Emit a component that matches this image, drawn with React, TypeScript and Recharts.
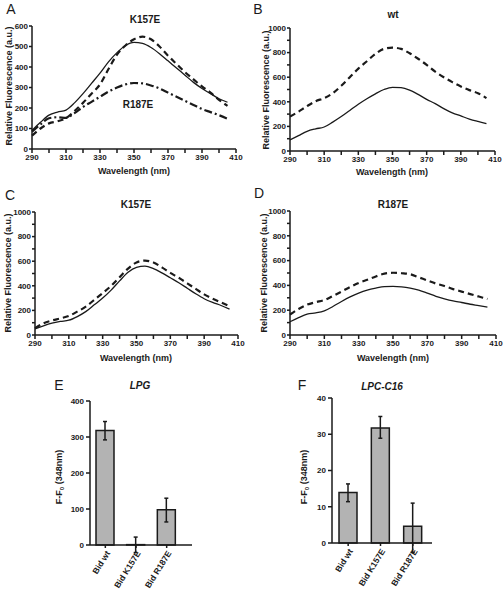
import React from 'react';
import { LineChart, Line, XAxis, YAxis, BarChart, Bar, ErrorBar } from 'recharts';

// emission spectra, 290-405 nm
const wavelengths = [290, 295, 300, 305, 310, 315, 320, 325, 330, 335, 340, 345, 350, 355, 360, 365, 370, 375, 380, 385, 390, 395, 400, 405];

const aSolid = [90, 130, 165, 180, 190, 225, 270, 320, 370, 425, 470, 505, 520, 515, 495, 465, 430, 395, 360, 325, 295, 270, 245, 228];
const aDashed = [65, 100, 125, 135, 150, 185, 225, 270, 315, 390, 460, 505, 535, 548, 535, 500, 455, 415, 375, 340, 305, 275, 240, 210];
const aDashDot = [85, 120, 150, 155, 152, 175, 205, 230, 255, 280, 300, 315, 322, 320, 310, 295, 275, 255, 235, 215, 195, 180, 165, 148];

const bSolid = [90, 125, 160, 180, 195, 235, 280, 330, 380, 425, 465, 500, 518, 515, 495, 460, 420, 385, 345, 310, 285, 260, 240, 222];
const bDashed = [280, 320, 365, 405, 430, 470, 530, 600, 670, 730, 790, 830, 840, 830, 795, 750, 700, 645, 600, 560, 525, 495, 470, 430];

const cSolid = [50, 75, 96, 110, 120, 150, 190, 245, 300, 365, 440, 510, 550, 560, 540, 505, 465, 425, 380, 335, 295, 265, 240, 210];
const cDashed = [55, 95, 118, 135, 155, 190, 230, 285, 340, 400, 470, 540, 590, 605, 590, 550, 505, 465, 420, 375, 330, 295, 265, 235];

const dSolid = [107, 140, 168, 178, 195, 230, 270, 307, 338, 362, 378, 390, 392, 388, 378, 362, 338, 312, 292, 275, 262, 248, 237, 225];
const dDashed = [165, 210, 245, 265, 282, 315, 350, 387, 420, 445, 472, 495, 502, 498, 490, 465, 440, 415, 395, 370, 350, 330, 310, 290];

const xTicks = [290, 300, 310, 320, 330, 340, 350, 360, 370, 380, 390, 400, 410];
const yTicksA = [0, 100, 200, 300, 400, 500, 600];
const yTicks1000 = [0, 100, 200, 300, 400, 500, 600, 700, 800, 900, 1000];

// bar panels
const variants = ['Bid wt', 'Bid K157E', 'Bid R187E'];
const lpgValues = [318, 1, 98];
const lpgErrors = [[26, 25], [22, 21], [34, 32]];
const lpcValues = [13.9, 31.7, 4.6];
const lpcErrors = [[2.5, 2.4], [2.8, 3.2], [7.2, 6.4]];
const lpgTicks = [0, 100, 200, 300, 400];
const lpcTicks = [0, 10, 20, 30, 40];

const FONT = '"Liberation Sans", Arial, Helvetica, sans-serif';
const INK = '#1a1a1a';

const tickStyle = { fontSize: 8, fontWeight: 700, fill: INK, fontFamily: FONT };

const STYLES: Record<string, { dash?: string; width: number }> = {
  solid: { width: 1.3 },
  dashed: { dash: '6 4', width: 2.2 },
  dashdot: { dash: '8 3 2 3', width: 2.2 },
};

type Box = { left: number; top: number; width: number; height: number };
type Plot = { x0: number; x1: number; y0: number; y1: number };

function Text({ x, y, size, children, bold = true, italic = false, rotate = false }: any) {
  return (
    <div
      style={{
        position: 'absolute',
        left: x,
        top: y,
        transform: `translate(-50%, -50%)${rotate ? ' rotate(-90deg)' : ''}`,
        whiteSpace: 'nowrap',
        fontSize: size,
        fontWeight: bold ? 700 : 400,
        fontStyle: italic ? 'italic' : 'normal',
        color: INK,
        fontFamily: FONT,
        lineHeight: 1,
      }}
    >
      {children}
    </div>
  );
}

function SpectrumPanel({ box, plot, series, yTicks, yMax, labelStep }: {
  box: Box; plot: Plot; series: { values: number[]; style: string }[]; yTicks: number[]; yMax: number; labelStep: number;
}) {
  const data = wavelengths.map((w, i) => {
    const row: any = { w };
    series.forEach((s, j) => (row['s' + j] = s.values[i]));
    return row;
  });
  return (
    <div style={{ position: 'absolute', left: box.left, top: box.top }}>
      <LineChart
        width={box.width}
        height={box.height}
        data={data}
        margin={{ top: plot.y0 - box.top, right: box.left + box.width - plot.x1, left: 0, bottom: 0 }}
      >
        <XAxis
          dataKey="w"
          type="number"
          domain={[290, 410]}
          ticks={xTicks}
          interval={0}
          tickFormatter={(v: number) => ((v - 290) % 20 === 0 ? String(v) : '')}
          height={box.top + box.height - plot.y1}
          tick={tickStyle}
          tickSize={4}
          tickMargin={1}
          stroke={INK}
          strokeWidth={1.5}
        />
        <YAxis
          type="number"
          domain={[0, yMax]}
          ticks={yTicks}
          interval={0}
          tickFormatter={(v: number) => (v % labelStep === 0 ? String(v) : '')}
          width={plot.x0 - box.left}
          tick={tickStyle}
          tickSize={3}
          tickMargin={1}
          stroke={INK}
          strokeWidth={1.5}
        />
        {series.map((s, j) => (
          <Line
            key={j}
            dataKey={'s' + j}
            type="monotone"
            stroke={INK}
            strokeWidth={STYLES[s.style].width}
            strokeDasharray={STYLES[s.style].dash}
            dot={false}
            isAnimationActive={false}
          />
        ))}
      </LineChart>
    </div>
  );
}

function BarPanel({ box, plot, values, errors, ticks, yMax, padRight }: {
  box: Box; plot: Plot; values: number[]; errors: number[][]; ticks: number[]; yMax: number; padRight: number;
}) {
  const data = variants.map((name, i) => ({ name, value: values[i], err: errors[i] }));
  return (
    <div style={{ position: 'absolute', left: box.left, top: box.top }}>
      <BarChart
        width={box.width}
        height={box.height}
        data={data}
        margin={{ top: plot.y0 - box.top, right: box.left + box.width - plot.x1, left: 0, bottom: 0 }}
      >
        <XAxis
          dataKey="name"
          interval={0}
          padding={{ left: 0, right: padRight }}
          height={box.top + box.height - plot.y1}
          tick={{ ...tickStyle, fontSize: 8.5 }}
          angle={-58}
          textAnchor="end"
          tickSize={3}
          tickMargin={2}
          stroke={INK}
          strokeWidth={1.5}
        />
        <YAxis
          type="number"
          domain={[0, yMax]}
          allowDataOverflow
          ticks={ticks}
          interval={0}
          width={plot.x0 - box.left}
          tick={tickStyle}
          tickSize={4}
          tickMargin={2}
          stroke={INK}
          strokeWidth={1.5}
        />
        <Bar dataKey="value" barSize={18} fill="#b3b3b3" stroke={INK} strokeWidth={1.5} minPointSize={0} isAnimationActive={false}>
          <ErrorBar dataKey="err" width={2} stroke={INK} strokeWidth={1.5} direction="y" />
        </Bar>
      </BarChart>
    </div>
  );
}

const yTitle = 'Relative Fluorescence (a.u.)';

export default function App() {
  return (
    <div style={{ position: 'absolute', left: 0, top: 0, width: 503, height: 600, background: '#fff', overflow: 'hidden' }}>
      <style>{'.recharts-bar, .recharts-bar *, .recharts-errorBars, .recharts-errorBar { clip-path: none !important; }'}</style>

      <SpectrumPanel
        box={{ left: 0, top: 0, width: 250, height: 180 }}
        plot={{ x0: 32, x1: 236, y0: 26, y1: 149 }}
        series={[{ values: aSolid, style: 'solid' }, { values: aDashed, style: 'dashed' }, { values: aDashDot, style: 'dashdot' }]}
        yTicks={yTicksA}
        yMax={600}
        labelStep={100}
      />
      <SpectrumPanel
        box={{ left: 250, top: 0, width: 253, height: 180 }}
        plot={{ x0: 290, x1: 495, y0: 28, y1: 151 }}
        series={[{ values: bSolid, style: 'solid' }, { values: bDashed, style: 'dashed' }]}
        yTicks={yTicks1000}
        yMax={1000}
        labelStep={200}
      />
      <SpectrumPanel
        box={{ left: 0, top: 185, width: 250, height: 180 }}
        plot={{ x0: 35, x1: 238, y0: 212, y1: 335 }}
        series={[{ values: cSolid, style: 'solid' }, { values: cDashed, style: 'dashed' }]}
        yTicks={yTicks1000}
        yMax={1000}
        labelStep={200}
      />
      <SpectrumPanel
        box={{ left: 250, top: 185, width: 253, height: 180 }}
        plot={{ x0: 290, x1: 496, y0: 211, y1: 335 }}
        series={[{ values: dSolid, style: 'solid' }, { values: dDashed, style: 'dashed' }]}
        yTicks={yTicks1000}
        yMax={1000}
        labelStep={200}
      />
      <BarPanel
        box={{ left: 30, top: 380, width: 180, height: 220 }}
        plot={{ x0: 90, x1: 192, y0: 401, y1: 545 }}
        values={lpgValues}
        errors={lpgErrors}
        ticks={lpgTicks}
        yMax={400}
        padRight={10}
      />
      <BarPanel
        box={{ left: 270, top: 380, width: 180, height: 220 }}
        plot={{ x0: 332, x1: 432, y0: 398, y1: 543 }}
        values={lpcValues}
        errors={lpcErrors}
        ticks={lpcTicks}
        yMax={40}
        padRight={3}
      />

      {/* panel letters */}
      <Text x={11} y={9} size={14} bold={false}>A</Text>
      <Text x={258} y={9} size={14} bold={false}>B</Text>
      <Text x={10} y={195} size={14} bold={false}>C</Text>
      <Text x={259} y={193} size={14} bold={false}>D</Text>
      <Text x={59} y={385} size={14} bold={false}>E</Text>
      <Text x={302} y={385} size={14} bold={false}>F</Text>

      {/* titles */}
      <Text x={145} y={20} size={10}>K157E</Text>
      <Text x={138} y={105} size={10}>R187E</Text>
      <Text x={393} y={15} size={10}>wt</Text>
      <Text x={136} y={205} size={10}>K157E</Text>
      <Text x={393} y={205} size={10}>R187E</Text>
      <Text x={140} y={386} size={10} italic>LPG</Text>
      <Text x={382} y={387} size={10} italic>LPC-C16</Text>

      {/* axis titles */}
      <Text x={9} y={86} size={9} rotate>{yTitle}</Text>
      <Text x={266} y={90} size={9} rotate>{yTitle}</Text>
      <Text x={8} y={273} size={9} rotate>{yTitle}</Text>
      <Text x={264} y={273} size={9} rotate>{yTitle}</Text>
      <Text x={134} y={171} size={9}>Wavelength (nm)</Text>
      <Text x={392} y={172} size={9}>Wavelength (nm)</Text>
      <Text x={136} y={358} size={9}>Wavelength (nm)</Text>
      <Text x={393} y={358} size={9}>Wavelength (nm)</Text>
      <Text x={60} y={477} size={9} rotate>F-F<sub style={{ fontSize: 6 }}>0</sub> (348nm)</Text>
      <Text x={305} y={477} size={9} rotate>F-F<sub style={{ fontSize: 6 }}>0</sub> (348nm)</Text>
    </div>
  );
}
